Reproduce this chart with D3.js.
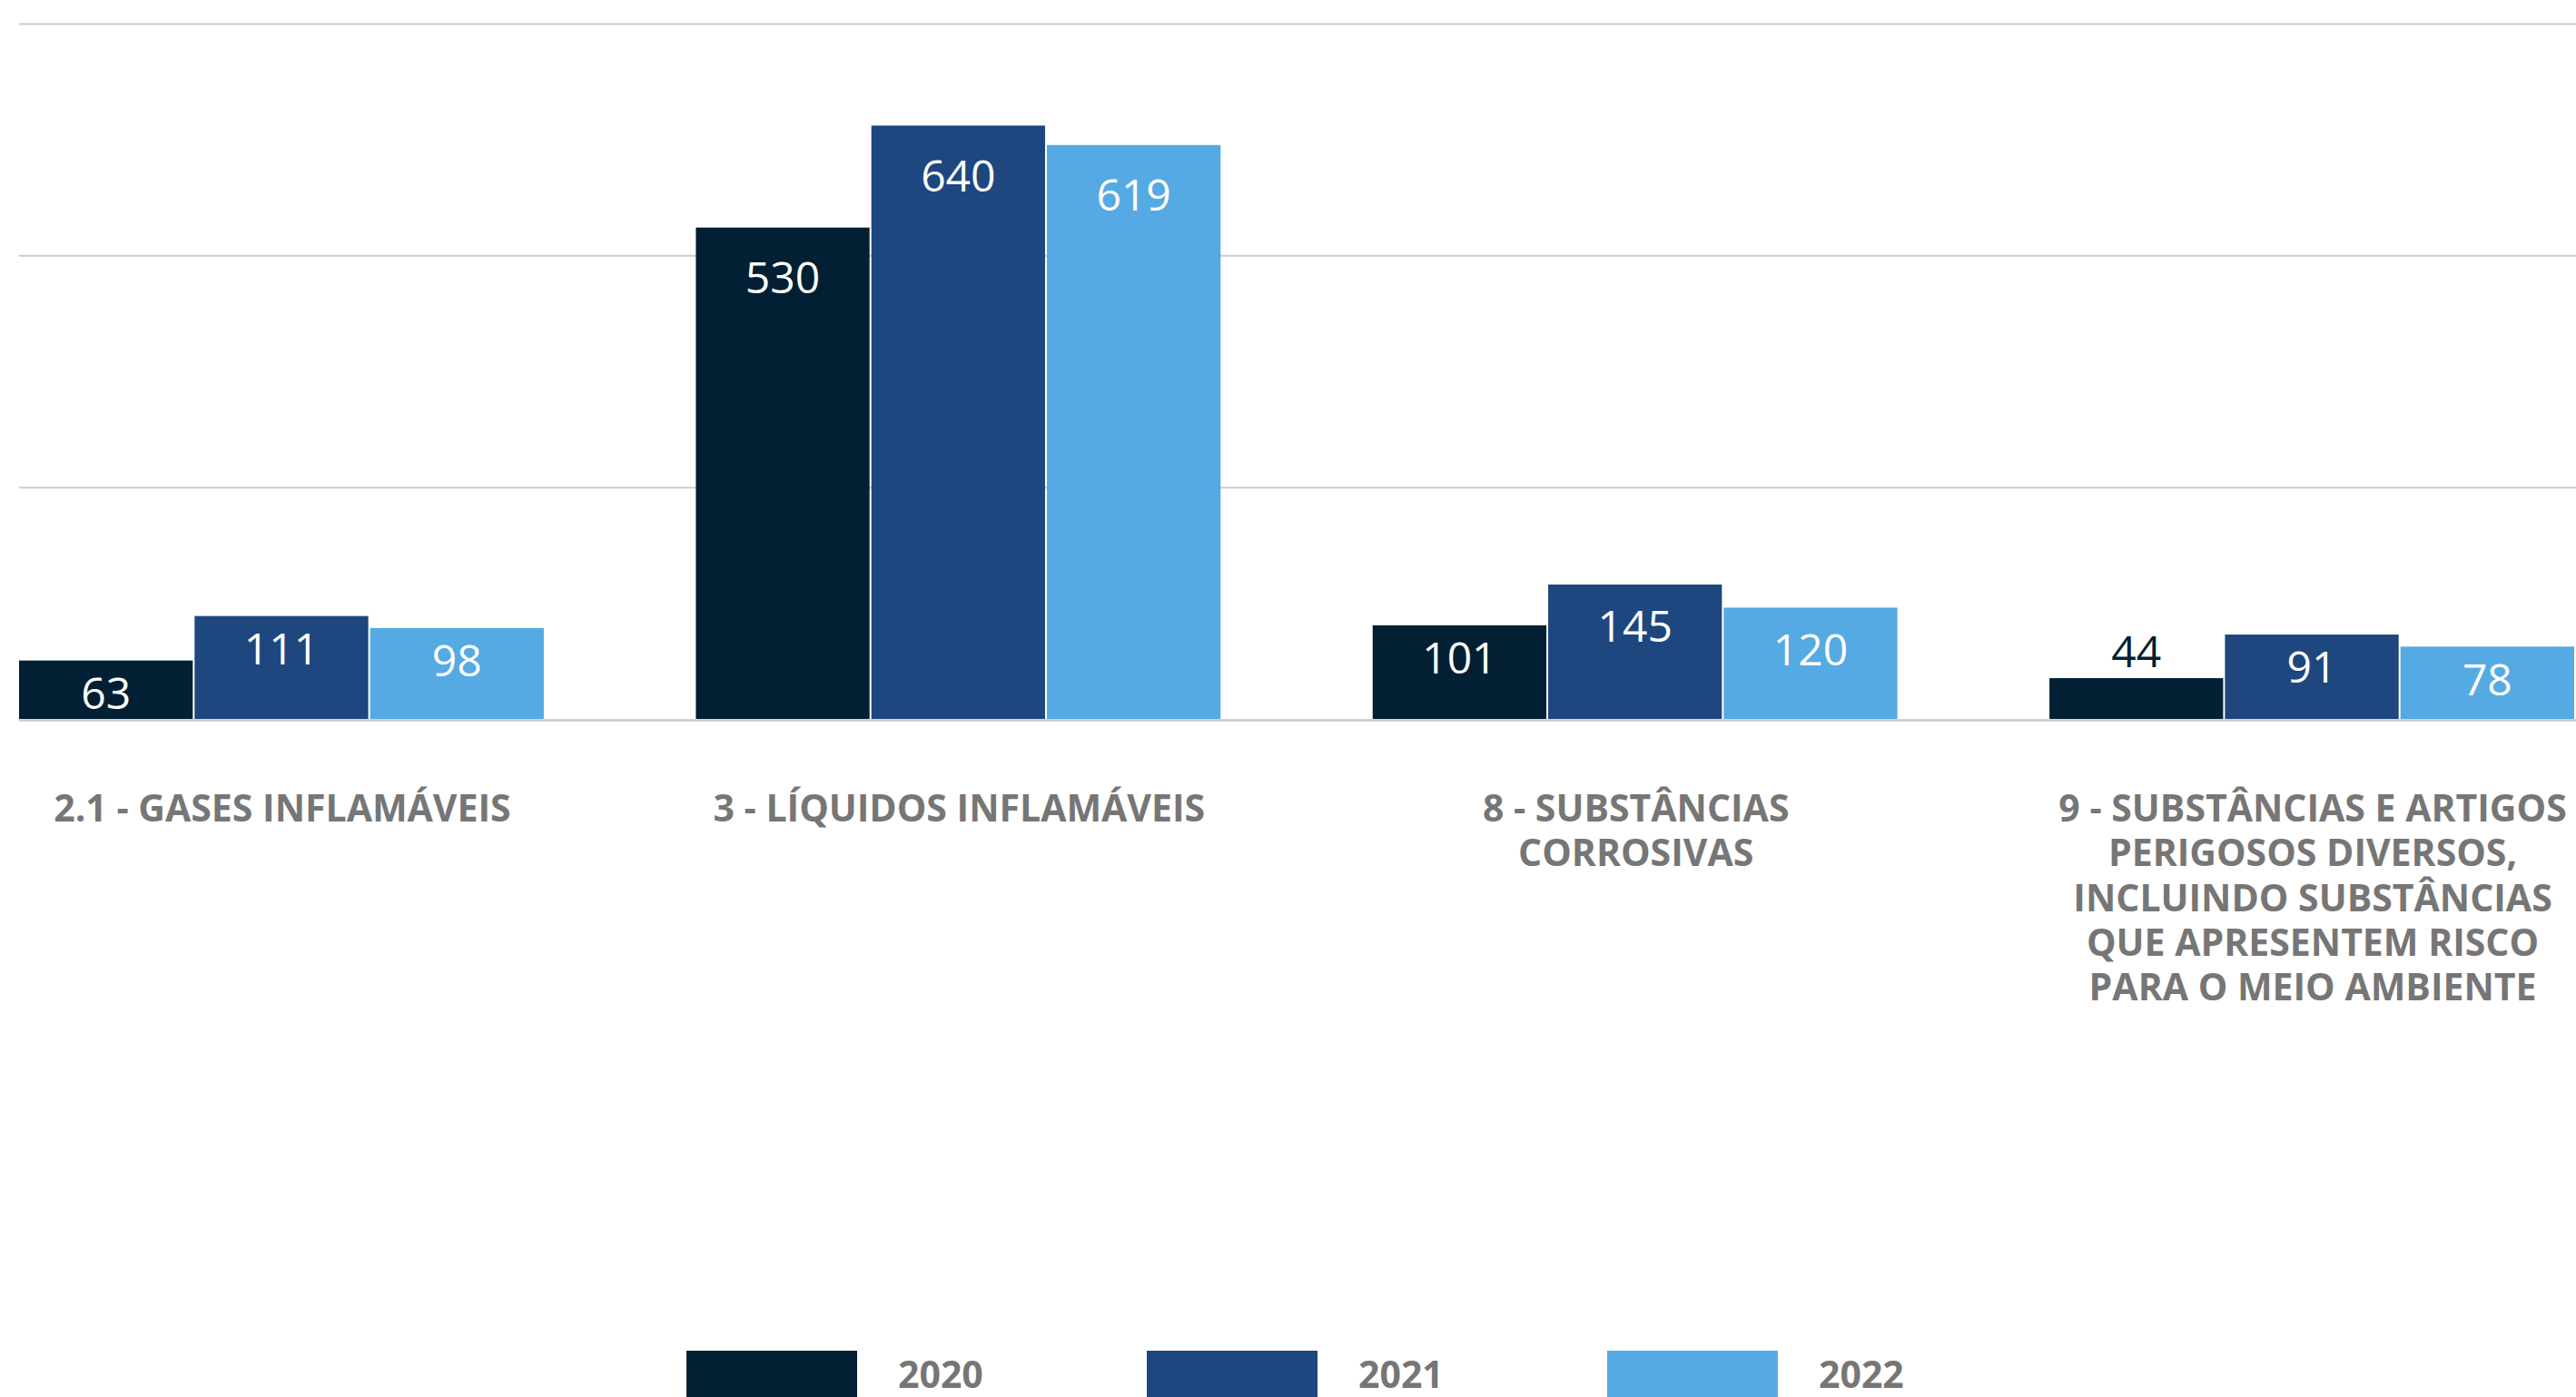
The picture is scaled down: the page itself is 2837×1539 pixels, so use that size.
<!DOCTYPE html>
<html>
<head>
<meta charset="utf-8">
<script src="https://cdn.jsdelivr.net/npm/d3@7"></script>
<style>
  html, body { margin: 0; padding: 0; background: #fff; }
  svg { display: block; font-family: "Open Sans", sans-serif; }
  .grid line { stroke: #cccccc; stroke-width: 2; }
  .grid .domain { display: none; }
  .cat { fill: #767676; font-weight: 700; font-size: 41px; }
  .val { font-size: 48px; font-weight: 400; }
  .legend text { fill: #767676; font-weight: 700; font-size: 41px; }
</style>
</head>
<body>
<div id="chart"></div>
<script>
// Categories (one label per line)
var categories = [
  ["2.1 - GASES INFLAMÁVEIS"],
  ["3 - LÍQUIDOS INFLAMÁVEIS"],
  ["8 - SUBSTÂNCIAS", "CORROSIVAS"],
  ["9 - SUBSTÂNCIAS E ARTIGOS", "PERIGOSOS DIVERSOS,", "INCLUINDO SUBSTÂNCIAS", "QUE APRESENTEM RISCO", "PARA O MEIO AMBIENTE"]
];
var years = ["2020", "2021", "2022"];
var values2020 = [63, 530, 101, 44];
var values2021 = [111, 640, 145, 91];
var values2022 = [98, 619, 120, 78];
var gridTicks = [0, 250, 500, 750];

var colors = ["#031f33", "#1e467f", "#55aae3"];

var W = 2837, H = 1539;
var margin = { top: 26, right: 0, bottom: 0, left: 21 };
var baseY = 792;

var series = [values2020, values2021, values2022];
var keys = categories.map(function(d) { return d[0]; });

var svg = d3.select("#chart").append("svg")
  .attr("width", W)
  .attr("height", H);

// Scales
var x0 = d3.scaleBand().domain(keys).range([margin.left, W - margin.right]).paddingInner(0.222);
var x1 = d3.scaleBand().domain(years).range([0, x0.bandwidth()]);
var y = d3.scaleLinear().domain([0, 750]).range([baseY, margin.top]);
var color = d3.scaleOrdinal().domain(years).range(colors);

// Gridlines
svg.append("g")
  .attr("class", "grid")
  .attr("transform", "translate(" + margin.left + ",0)")
  .call(d3.axisLeft(y).tickValues(gridTicks.slice(1)).tickSize(-(W - margin.left)).tickFormat(""));

// Bars
var bars = [];
keys.forEach(function(k, i) {
  years.forEach(function(yr, j) {
    bars.push({ cat: k, year: yr, value: series[j][i] });
  });
});

var g = svg.append("g");

g.selectAll("rect.bar")
  .data(bars)
  .enter().append("rect")
  .attr("class", "bar")
  .attr("x", function(d) { return x0(d.cat) + x1(d.year); })
  .attr("y", function(d) { return y(d.value); })
  .attr("width", x1.bandwidth() - 2)
  .attr("height", function(d) { return y(0) - y(d.value); })
  .attr("fill", function(d) { return color(d.year); });

// Baseline
svg.append("line")
  .attr("x1", margin.left).attr("x2", W)
  .attr("y1", y(0) + 1.5).attr("y2", y(0) + 1.5)
  .attr("stroke", "#c8c8c8")
  .attr("stroke-width", 2.5);

// Value labels: inside the top of the bar, or above it when the bar is too short
var capH = 0.714 * 48;
g.selectAll("text.val")
  .data(bars)
  .enter().append("text")
  .attr("class", "val")
  .attr("text-anchor", "middle")
  .attr("x", function(d) { return x0(d.cat) + x1(d.year) + (x1.bandwidth() - 2) / 2; })
  .attr("y", function(d) {
    var h = y(0) - y(d.value);
    if (h < 55) return y(d.value) - 12;
    var off = h > 300 ? 38 : h > 118 ? 29 : 19;
    return y(d.value) + off + capH;
  })
  .attr("fill", function(d) { return (y(0) - y(d.value)) < 55 ? color(d.year) : "#ffffff"; })
  .text(function(d) { return d.value; });

// Category labels
var cat = svg.append("g").selectAll("text.cat")
  .data(categories)
  .enter().append("text")
  .attr("class", "cat")
  .attr("text-anchor", "middle")
  .attr("x", function(d) { return x0(d[0]) + x0.bandwidth() / 2; })
  .attr("y", 905);

cat.selectAll("tspan")
  .data(function(d) { return d; })
  .enter().append("tspan")
  .attr("x", function() { return d3.select(this.parentNode).attr("x"); })
  .attr("dy", function(d, i) { return i === 0 ? 0 : 49.3; })
  .text(function(d) { return d; });

// Legend
var lx = d3.scalePoint().domain(years).range([756, 1770]);
var legend = svg.append("g").attr("class", "legend")
  .selectAll("g")
  .data(years)
  .enter().append("g")
  .attr("transform", function(d) { return "translate(" + lx(d) + ",1488)"; });

legend.append("rect")
  .attr("width", 188)
  .attr("height", 52)
  .attr("fill", function(d) { return color(d); });

legend.append("text")
  .attr("x", 233)
  .attr("y", 41)
  .text(function(d) { return d; });
</script>
</body>
</html>
